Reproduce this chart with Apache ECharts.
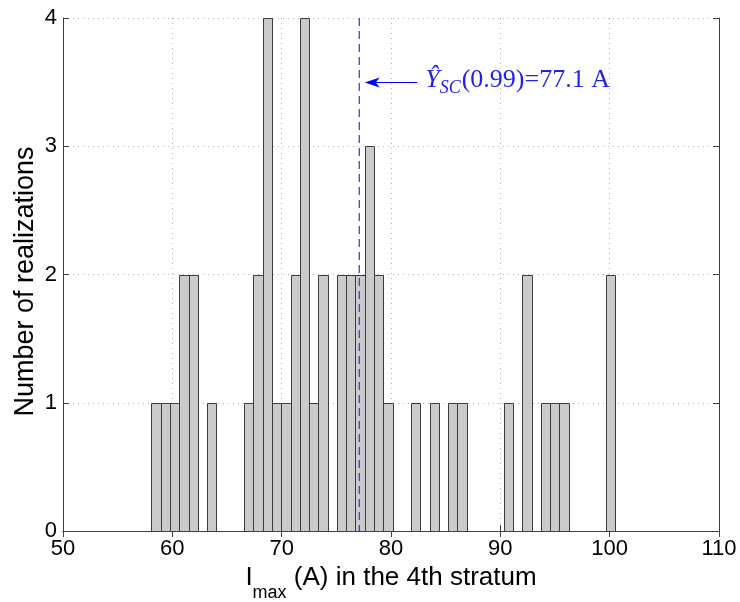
<!DOCTYPE html>
<html>
<head>
<meta charset="utf-8">
<script src="https://cdn.jsdelivr.net/npm/echarts@6/dist/echarts.min.js"></script>
<style>
html,body{margin:0;padding:0;background:#fff;}
#chart{width:740px;height:602px;}
</style>
</head>
<body>
<div id="chart"></div>
<script>
// Histogram definition (50 bins)
const binStart = 58.09;
const binWidth = 0.848;
const counts = [1,1,1,2,2,0,1,0,0,0,
                1,2,4,1,1,2,4,1,2,0,
                2,2,2,3,2,1,0,0,1,0,
                1,0,1,1,0,0,0,0,1,0,
                2,0,1,1,1,0,0,0,0,2];
// Axis ticks
const xTicks = [50,60,70,80,90,100,110];
const yTicks = [0,1,2,3,4];
// Annotation
const quantileValue = 77.1;
const arrowY = 3.5;
const arrowTail = 82.4;
const arrowHead = 77.6;
const annotationText = '{hat|Ŷ}{sub|SC}{n|(0.99)=77.1 A}';

const bins = counts.map((c, i) => [binStart + i * binWidth, binStart + (i + 1) * binWidth, c]).filter(b => b[2] > 0);

const chart = echarts.init(document.getElementById('chart'));
const sans = 'Liberation Sans, Arial, sans-serif';
const serif = 'Liberation Serif, Times New Roman, serif';
const tickStyle = {show:true, inside:true, length:6, lineStyle:{color:'#404040', width:1}};
const axisLineStyle = {show:true, lineStyle:{color:'#404040', width:1}};
const gridGray = {show:true, lineStyle:{color:'#b4b4b4', type:[1,4], width:1}};

chart.setOption({
  animation:false,
  backgroundColor:'#fff',
  grid:{left:63, right:21, top:18, bottom:71, containLabel:false, outerBoundsMode:'none'},
  xAxis:[{
    type:'value', min:xTicks[0], max:xTicks[xTicks.length-1], interval:10,
    axisLine:axisLineStyle, axisTick:tickStyle, splitLine:gridGray,
    axisLabel:{color:'#000', fontSize:22, fontFamily:sans, margin:7},
    name:'{i|I}{sub|max}{t| (A) in the 4th stratum}',
    nameLocation:'middle', nameGap:33,
    nameTextStyle:{
      rich:{
        i:{fontSize:26, fontFamily:sans, color:'#000', lineHeight:30, verticalAlign:'top'},
        t:{fontSize:26, fontFamily:sans, color:'#000', lineHeight:30, verticalAlign:'top'},
        sub:{fontSize:18, fontFamily:sans, color:'#000', lineHeight:30, verticalAlign:'top', padding:[19,0,0,0]}
      }
    }
  },{
    type:'value', position:'top', min:xTicks[0], max:xTicks[xTicks.length-1], interval:10,
    axisLine:axisLineStyle, axisTick:tickStyle, axisLabel:{show:false}, splitLine:{show:false}
  }],
  yAxis:[{
    type:'value', min:yTicks[0], max:yTicks[yTicks.length-1], interval:1,
    axisLine:axisLineStyle, axisTick:tickStyle, splitLine:gridGray,
    axisLabel:{color:'#000', fontSize:22, fontFamily:sans, margin:6},
    name:'Number of realizations', nameLocation:'middle', nameGap:24, nameMoveOverlap:false,
    nameTextStyle:{color:'#000', fontSize:27, fontFamily:sans, padding:[0,14,0,0]}
  },{
    type:'value', position:'right', min:yTicks[0], max:yTicks[yTicks.length-1], interval:1,
    axisLine:axisLineStyle, axisTick:tickStyle, axisLabel:{show:false}, splitLine:{show:false}
  }],
  series:[{
    type:'custom',
    xAxisIndex:0, yAxisIndex:0,
    data:bins,
    encode:{x:[0,1], y:2},
    renderItem:function(params, api){
      const p0 = api.coord([api.value(0), api.value(2)]);
      const p1 = api.coord([api.value(1), 0]);
      return {
        type:'rect',
        shape:{x:Math.round(p0[0])+0.5, y:Math.round(p0[1])+0.5, width:Math.round(p1[0])-Math.round(p0[0]), height:Math.round(p1[1])-Math.round(p0[1])},
        style:{fill:'#cbcbcb', stroke:'#3c3c3c', lineWidth:1}
      };
    }
  },{
    type:'custom',
    xAxisIndex:0, yAxisIndex:0,
    z:5,
    data:[[quantileValue, arrowY, arrowTail, arrowHead]],
    renderItem:function(params, api){
      const q = api.value(0);
      const top = api.coord([q, yTicks[yTicks.length-1]]);
      const bot = api.coord([q, yTicks[0]]);
      const tail = api.coord([api.value(2), api.value(1)]);
      const head = api.coord([api.value(3), api.value(1)]);
      const blue = '#0000ff';
      const hx = head[0], hy = Math.round(head[1]) + 0.5;
      return {
        type:'group',
        children:[
          {type:'line', shape:{x1:top[0], y1:top[1], x2:bot[0], y2:bot[1]},
           style:{stroke:'#3030ff', lineWidth:1.2, lineDash:[8,5]}},
          {type:'line', shape:{x1:tail[0], y1:hy, x2:hx+8, y2:hy},
           style:{stroke:blue, lineWidth:1}},
          {type:'polygon', shape:{points:[[hx,hy],[hx+15,hy-5],[hx+11,hy],[hx+15,hy+5]]},
           style:{fill:blue}},
          {type:'text', x:tail[0]+8, y:hy,
           style:{text:annotationText, verticalAlign:'middle', align:'left',
             rich:{
               hat:{fontSize:26, fontFamily:serif, fontStyle:'italic', fill:'#2222ee', lineHeight:30, verticalAlign:'top'},
               sub:{fontSize:18, fontFamily:serif, fontStyle:'italic', fill:'#2222ee', lineHeight:30, verticalAlign:'top', padding:[12,1,0,0]},
               n:{fontSize:26, fontFamily:serif, fill:'#2222ee', lineHeight:30, verticalAlign:'top'}
             }}}
        ]
      };
    }
  }]
});
</script>
</body>
</html>
